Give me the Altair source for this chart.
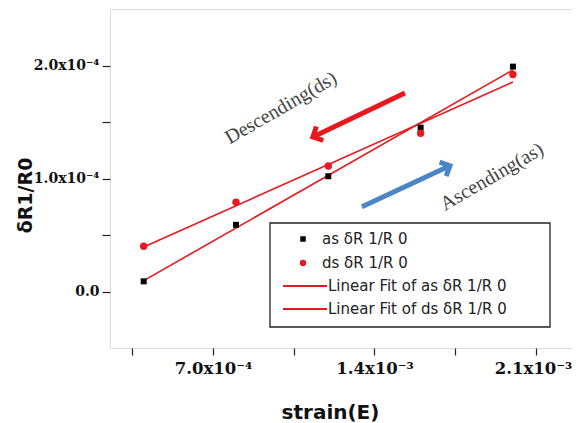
import altair as alt
import pandas as pd

# ---- data ----
strain = [0.0004, 0.0008, 0.0012, 0.0016, 0.0020]
as_vals = [0.09e-4, 0.59e-4, 1.02e-4, 1.45e-4, 1.99e-4]
ds_vals = [0.40e-4, 0.79e-4, 1.11e-4, 1.40e-4, 1.92e-4]

legend_labels = ["as  δR 1/R 0", "ds  δR 1/R 0", "Linear Fit of as  δR 1/R 0", "Linear Fit of ds  δR 1/R 0"]

# annotations (data coordinates)
ann_text = ["Descending(ds)", "Ascending(as)"]
ann_x = [0.000995, 0.001909]
ann_y = [1.624e-4, 1.015e-4]
# arrows: tail -> tip
red_arrow = {"x": 0.001532, "y": 1.756e-4, "x2": 0.001133, "y2": 1.368e-4}
blue_arrow = {"x": 0.001346, "y": 0.750e-4, "x2": 0.001727, "y2": 1.112e-4}

RED = "#e8191e"
BLUE = "#4a86c5"

df_as = pd.DataFrame({"strain": strain, "val": as_vals})
df_ds = pd.DataFrame({"strain": strain, "val": ds_vals})

xdom = [0.000254, 0.002256]
ydom = [-0.5e-4, 2.5e-4]

xlabel = ("round(datum.value/0.00035) % 2 != 0 ? '' : (datum.value < 0.001 ? "
          "format(datum.value*1e4,'.1f') + 'x10⁻⁴' : format(datum.value*1e3,'.1f') + 'x10⁻³')")
ylabel = ("round(datum.value*2e4) % 2 != 0 ? '' : (datum.value == 0 ? '0.0' : "
          "format(datum.value*1e4,'.1f') + 'x10⁻⁴')")

X = alt.X("strain:Q", scale=alt.Scale(domain=xdom, nice=False, zero=False),
          axis=alt.Axis(values=[0.00035, 0.0007, 0.00105, 0.0014, 0.00175, 0.0021],
                        labelExpr=xlabel, title="strain(E)", grid=False, domain=False,
                        tickSize=7, labelPadding=5, labelFont="DejaVu Serif",
                        labelFontWeight="bold", labelFontSize=16.5, labelColor="#111",
                        labelOffset={"condition": {"test": "datum.value > 0.002", "value": -3}, "value": 0},
                        tickColor="#222", tickWidth=1.2,
                        titleFont="DejaVu Sans", titleFontSize=20, titleFontWeight="bold",
                        titleX=220, titleY=64, titleBaseline="middle", titleColor="#111"))
Y = alt.Y("val:Q", scale=alt.Scale(domain=ydom, nice=False, zero=False),
          axis=alt.Axis(values=[0, 0.5e-4, 1e-4, 1.5e-4, 2e-4],
                        labelExpr=ylabel, title="δR1/R0", grid=False, domain=False,
                        tickSize=8, labelPadding=3, labelFont="DejaVu Serif",
                        labelFontWeight="bold", labelFontSize=14, labelColor="#111",
                        tickColor="#222", tickWidth=1.2,
                        titleFont="DejaVu Sans", titleFontSize=19, titleFontWeight="bold",
                        titleX=-85, titleY=186, titleAngle=270, titleBaseline="middle",
                        titleColor="#111"))

fit_as = alt.Chart(df_as).transform_regression("strain", "val", method="linear").mark_line(
    color=RED, strokeWidth=1.6).encode(x=X, y=Y)
fit_ds = alt.Chart(df_ds).transform_regression("strain", "val", method="linear").mark_line(
    color=RED, strokeWidth=1.6).encode(x="strain:Q", y="val:Q")

pts_as = alt.Chart(df_as).mark_point(shape="square", filled=True, color="black", size=36, opacity=1).encode(
    x="strain:Q", y="val:Q")
pts_ds = alt.Chart(df_ds).mark_point(shape="circle", filled=True, color=RED, size=55, opacity=1).encode(
    x="strain:Q", y="val:Q")

ann_df = pd.DataFrame({"text": ann_text, "strain": ann_x, "val": ann_y})
ann = alt.Chart(ann_df).mark_text(font="Liberation Serif", fontSize=20, angle=330,
                                  align="center", baseline="middle", color="#444").encode(
    x="strain:Q", y="val:Q", text="text:N")

def arrow(a, color):
    d = pd.DataFrame({"strain": [a["x"]], "val": [a["y"]], "strain2": [a["x2"]], "val2": [a["y2"]]})
    return alt.Chart(d).mark_rule(color=color, strokeWidth=5).encode(
        x="strain:Q", y="val:Q", x2="strain2:Q", y2="val2:Q")

chev = "M -0.9 0.9 L 0 0 L 0.9 0.9"
red_head = alt.Chart(pd.DataFrame({"strain": [red_arrow["x2"]], "val": [red_arrow["y2"]]})).mark_point(
    shape=chev, filled=False, stroke=RED, strokeWidth=5, size=300, angle=244, opacity=1).encode(
    x="strain:Q", y="val:Q")
blue_head = alt.Chart(pd.DataFrame({"strain": [blue_arrow["x2"]], "val": [blue_arrow["y2"]]})).mark_point(
    shape=chev, filled=False, stroke=BLUE, strokeWidth=5, size=300, angle=65, opacity=1).encode(
    x="strain:Q", y="val:Q")

# ---- legend (pixel positions inside plot area) ----
one = pd.DataFrame({"a": [0]})
box = alt.Chart(one).mark_rect(fill="white", stroke="#222", strokeWidth=1.3).encode(
    x=alt.value(160), x2=alt.value(440), y=alt.value(214), y2=alt.value(318))
rows_y = [230, 254, 277, 300]
leg = [box]
leg.append(alt.Chart(one).mark_point(shape="square", filled=True, color="black", size=30, opacity=1).encode(
    x=alt.value(193), y=alt.value(rows_y[0])))
leg.append(alt.Chart(one).mark_point(shape="circle", filled=True, color=RED, size=40, opacity=1).encode(
    x=alt.value(193), y=alt.value(rows_y[1])))
for r in (2, 3):
    leg.append(alt.Chart(one).mark_rule(color=RED, strokeWidth=1.8).encode(
        x=alt.value(173), x2=alt.value(217), y=alt.value(rows_y[r])))
for i, lab in enumerate(legend_labels):
    leg.append(alt.Chart(pd.DataFrame({"t": [lab]})).mark_text(
        font="DejaVu Sans", fontSize=15, align="left", baseline="middle", color="#222").encode(
        x=alt.value(212 if i < 2 else 218), y=alt.value(rows_y[i]), text="t:N"))

chart = alt.layer(fit_as, fit_ds, ann, arrow(red_arrow, RED), red_head, arrow(blue_arrow, BLUE), blue_head,
                  pts_as, pts_ds, *leg).properties(
    width=462, height=339,
    autosize=alt.AutoSizeParams(type="none"),
    padding={"left": 102, "top": 1, "right": 0, "bottom": 76},
).configure_view(stroke="#222", strokeWidth=1.5).configure(background="white")

chart.save("out.html", embed_options={"renderer": "svg", "actions": False})
